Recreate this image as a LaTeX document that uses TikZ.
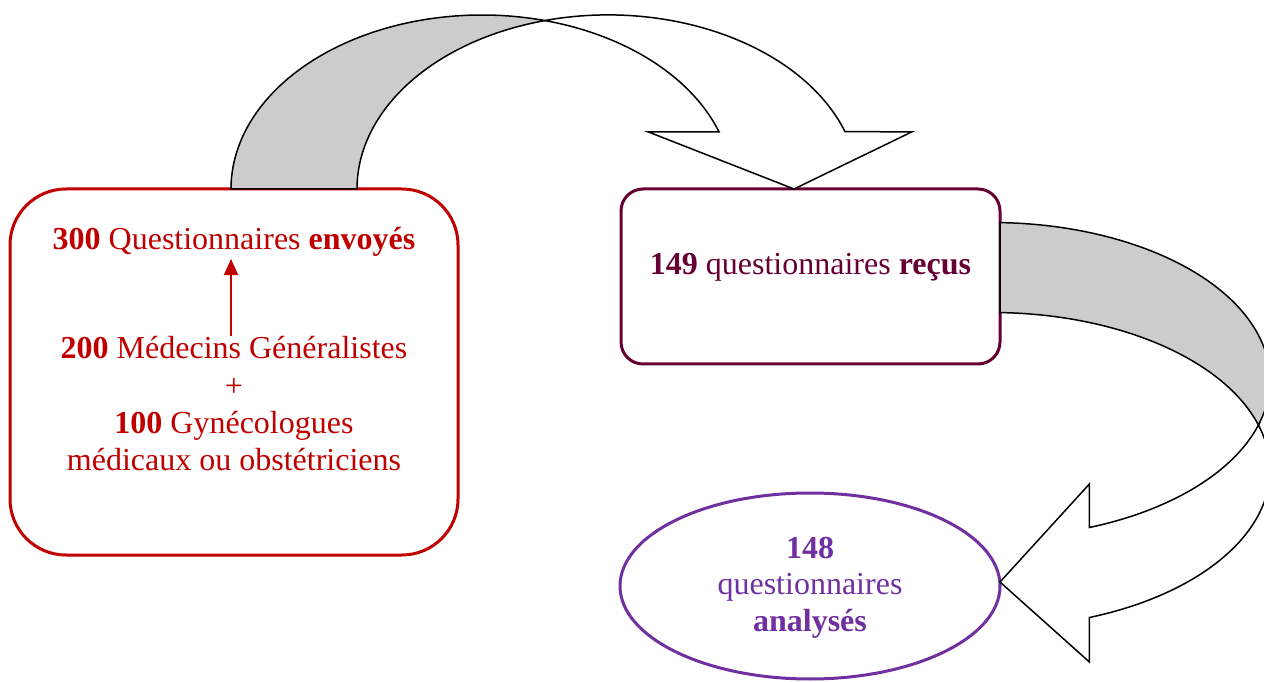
\documentclass[tikz,border=0pt]{standalone}
\usepackage{fontspec}
\setmainfont{Liberation Serif}
\usetikzlibrary{shapes.geometric,arrows.meta}
\definecolor{boxred}{RGB}{192,0,0}
\definecolor{boxmaroon}{RGB}{102,0,51}
\definecolor{boxpurple}{RGB}{112,48,160}
\definecolor{bandgray}{RGB}{204,204,204}
\begin{document}
\begin{tikzpicture}[x=0.5pt,y=0.5pt,
  txt/.style={font=\fontsize{16}{19}\selectfont, anchor=base, inner sep=0pt},
  band/.style={draw=black, line width=0.75pt, line join=miter},
  frame/.style={line width=1.5pt, fill=white},
  ellA/.style={x radius=125.5pt, y radius=87pt},
  ellC/.style={x radius=139pt, y radius=78.75pt},
]
\clip (0,0) rectangle (1264,681);
\fill[white] (0,0) rectangle (1264,681);

% boxes
\node[frame, draw=boxred, rounded corners=28pt, minimum width=224pt, minimum height=183pt] (box1) at (234,309) {};
\node[frame, draw=boxmaroon, rounded corners=11pt, minimum width=189.5pt, minimum height=87.5pt] (box2) at (810.5,404.5) {};
\node[frame, draw=boxpurple, ellipse, minimum width=190pt, minimum height=93pt] (ell) at (810,95) {};

% texts box 1
\node[txt, text=boxred] (q300) at (234,431.3) {\textbf{300} Questionnaires \textbf{envoyés}};
\node[txt, text=boxred] (g200) at (234,322) {\textbf{200} Médecins Généralistes};
\node[txt, text=boxred] (plus) at (234,285) {+};
\node[txt, text=boxred] (g100) at (234,248) {\textbf{100} Gynécologues};
\node[txt, text=boxred] (gmed) at (234,211) {médicaux ou obstétriciens};
\draw[boxred, line width=1pt, -{Triangle[width=7pt,length=8pt]}]
  ([xshift=-1.5pt]g200.north) -- ([xshift=-1.5pt,yshift=-1pt]q300.south);

% text box 2
\node[txt, text=boxmaroon] (q149) at (810.5,406) {\textbf{149} questionnaires \textbf{reçus}};

% text ellipse
\node[txt, text=boxpurple] (n148) at (810,123) {\textbf{148}};
\node[txt, text=boxpurple] (qan) at (810,87) {questionnaires};
\node[txt, text=boxpurple] (ana) at (810,50) {\textbf{analysés}};

% top curved arrow
\filldraw[band, fill=bandgray] (231,492)
  arc[start angle=180, end angle=75.46, ellA]
  arc[start angle=104.54, end angle=180, ellA] -- cycle;
\filldraw[band, fill=white] (545,660.5)
  arc[start angle=104.54, end angle=19.2, ellA]
  -- (912,549.2) -- (794,492) -- (648,549.2) -- (719,549.2)
  arc[start angle=19.2, end angle=75.46, ellA] -- cycle;

% right curved arrow
\filldraw[band, fill=bandgray] (1000,458.4)
  arc[start angle=88.35, end angle=-16.6, ellC]
  arc[start angle=16.6, end angle=88.35, ellC] -- cycle;
\filldraw[band, fill=white] (1258.4,256)
  arc[start angle=16.6, end angle=-69.5, ellC]
  -- (1089.4,19) -- (1000,99) -- (1089.4,197) -- (1089.4,153.5)
  arc[start angle=-69.5, end angle=-16.6, ellC] -- cycle;
\end{tikzpicture}
\end{document}
